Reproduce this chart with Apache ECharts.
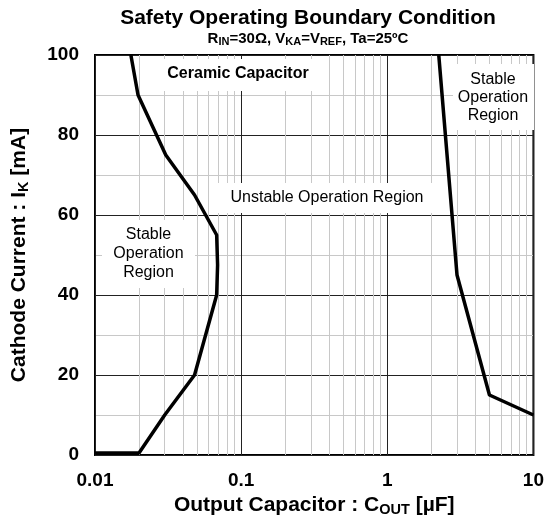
<!DOCTYPE html>
<html><head><meta charset="utf-8">
<script src="https://cdn.jsdelivr.net/npm/echarts@6/dist/echarts.min.js"></script>
<style>html,body{margin:0;padding:0;background:#fff}#c{width:547px;height:529px}</style>
</head><body><div id="c"></div>
<script>
// ---- data ----
const xTickValues = [0.01, 0.1, 1, 10];
const xTickLabels = ['0.01', '0.1', '1', '10'];
const yTickValues = [0, 20, 40, 60, 80, 100];
const minorX = [0.02, 0.03, 0.04, 0.05, 0.06, 0.07, 0.08, 0.09,
                0.2, 0.3, 0.4, 0.5, 0.6, 0.7, 0.8, 0.9,
                2, 3, 4, 5, 6, 7, 8, 9];
const minorY = [10, 30, 50, 70, 90];
// ceramic capacitor boundary (left)
const leftX = [0.01, 0.02, 0.03, 0.048, 0.068, 0.069, 0.068, 0.048, 0.0305, 0.0197, 0.0176];
const leftY = [0.5, 0.5, 10, 20, 40, 47.5, 55, 65, 75, 90, 100];
// right boundary
const rightX = [2.25, 3.0, 5.0, 10];
const rightY = [100, 45, 15, 10];

const FONT = 'Liberation Sans, Arial, sans-serif';
const chart = echarts.init(document.getElementById('c'));

function zip(xs, ys) { return xs.map((x, i) => [x, ys[i]]); }
function xLabel(v) {
  for (let i = 0; i < xTickValues.length; i++) {
    if (Math.abs(Math.log10(v) - Math.log10(xTickValues[i])) < 1e-6) return xTickLabels[i];
  }
  return '';
}

const subRich = {
  n: { fontSize: 21, fontWeight: 'bold', color: '#000', fontFamily: FONT },
  s: { fontSize: 14.5, fontWeight: 'bold', color: '#000', fontFamily: FONT, padding: [8, 0, 0, 0] }
};

function box(x, y, w, h) {
  return { type: 'rect', z: 100, shape: { x: x, y: y, width: w, height: h }, style: { fill: '#fff' } };
}
function label(x, y, text, bold, lh) {
  return { type: 'text', z: 101, x: x, y: y,
    style: { text: text, fill: '#000', font: (bold ? 'bold ' : '') + '16px ' + FONT,
             align: 'center', verticalAlign: 'middle', lineHeight: lh || 18 } };
}

chart.setOption({
  animation: false,
  backgroundColor: '#fff',
  title: {
    text: 'Safety Operating Boundary Condition',
    subtext: '{n|R}{s|IN}{n|=30Ω, V}{s|KA}{n|=V}{s|REF}{n|, Ta=25ºC}',
    left: 303, top: 3, textAlign: 'center', itemGap: 1,
    textStyle: { fontSize: 21, fontWeight: 'bold', color: '#000', fontFamily: FONT },
    subtextStyle: { rich: {
      n: { fontSize: 15, fontWeight: 'bold', color: '#000', fontFamily: FONT },
      s: { fontSize: 11, fontWeight: 'bold', color: '#000', fontFamily: FONT, padding: [6, 0, 0, 0] }
    } }
  },
  grid: { left: 95, right: 12, top: 55, bottom: 74, show: true, borderColor: '#000', borderWidth: 2, backgroundColor: 'transparent' },
  xAxis: [{
    type: 'log', logBase: 10, min: 0.01, max: 10,
    axisLine: { show: false }, axisTick: { show: false },
    splitLine: { show: true, lineStyle: { color: '#222', width: 1 } },
    axisLabel: { fontSize: 19, fontWeight: 'bold', color: '#000', fontFamily: FONT, margin: 16, formatter: xLabel },
    name: '{n|Output Capacitor : C}{s|OUT}{n| [µF]}', nameLocation: 'middle', nameGap: 39,
    nameTextStyle: { rich: subRich }
  }, {
    type: 'log', logBase: 10, min: 0.01, max: 10, position: 'bottom',
    axisLine: { show: false }, splitLine: { show: false }, axisLabel: { show: false },
    axisTick: { show: true, inside: true, length: 5, customValues: minorX, lineStyle: { color: '#000', width: 1 } }
  }],
  yAxis: {
    type: 'value', min: 0, max: 100, interval: 20,
    axisLine: { show: false }, axisTick: { show: false },
    splitLine: { show: true, lineStyle: { color: '#222', width: 1 } },
    minorTick: { show: false, splitNumber: 2 },
    minorSplitLine: { show: true, lineStyle: { color: '#c8c8c8', width: 1 } },
    axisLabel: { fontSize: 19, fontWeight: 'bold', color: '#000', fontFamily: FONT, margin: 16 },
    name: '{n|Cathode Current : I}{s|K}{n| [mA]}', nameLocation: 'middle', nameGap: 64, nameRotate: 90,
    nameTextStyle: { rich: subRich }
  },
  series: [{
    type: 'line', data: [], z: 1, silent: true,
    markLine: { silent: true, symbol: ['none', 'none'], label: { show: false }, animation: false,
      lineStyle: { color: '#c8c8c8', width: 1, type: 'solid' },
      data: minorX.map(v => ({ xAxis: v })) }
  }, {
    type: 'line', data: zip(leftX, leftY), z: 200, symbol: 'none', showSymbol: false, clip: false,
    lineStyle: { color: '#000', width: 3.5 }
  }, {
    type: 'line', data: zip(rightX, rightY), z: 200, symbol: 'none', showSymbol: false, clip: false,
    lineStyle: { color: '#000', width: 3.5 }
  }],
  graphic: [
    box(142, 59, 175, 32), label(238, 74, 'Ceramic Capacitor', true),
    box(210, 183, 240, 30), label(327, 198, 'Unstable Operation Region', false),
    box(102, 220, 93, 68), label(148.5, 254, 'Stable\nOperation\nRegion', false, 19),
    box(453, 64, 81, 66), label(493, 97.5, 'Stable\nOperation\nRegion', false, 18)
  ]
});
</script></body></html>
